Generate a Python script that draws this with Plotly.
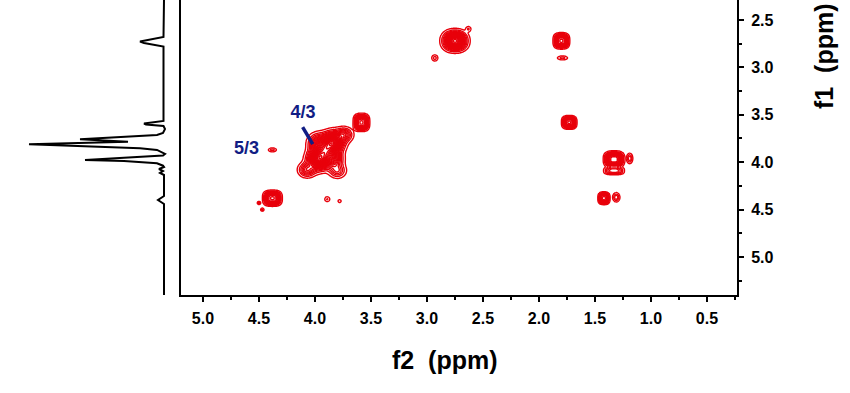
import numpy as np
import plotly.graph_objects as go

# ---------------- data ----------------
# 1D projection along f1 (ppm) and its intensity (arbitrary units)
spec_f1 = [2.289, 2.679, 2.727, 2.743, 2.780, 3.565, 3.592, 3.602, 3.618, 3.650,
           3.692, 3.713, 3.758, 3.784, 3.811, 3.837, 3.853, 3.871, 3.892, 3.913,
           3.929, 3.977, 3.987, 4.012, 4.037, 4.051, 4.072, 4.093, 4.114, 4.135,
           4.357, 4.399, 4.441, 5.401]
spec_int = [0, 0.5, 24, 20, 0.5, 0.5, 20, 18, 0.5, -1,
            1, 7, 84, 36, 135, 64, 24, 7, 2, -1,
            1, 79, 40, 7, 1, 0, 5, 1, 4, 0,
            0, 6, 0, 0]

# COSY cross / diagonal peaks: f2, f1 (ppm), relative height, widths (ppm), shape exponent
cp_f2 = [2.75, 2.93, 2.63, 1.80, 1.79, 1.73, 1.33, 1.19, 1.33, 1.42, 1.31,
         3.585, 4.38, 4.38, 4.50, 4.47, 3.89, 3.78,
         3.97, 3.84, 3.905, 3.97, 3.84, 4.07, 3.80, 3.74]
cp_f1 = [2.72, 2.90, 2.595, 2.72, 2.90, 3.58, 3.97, 3.96, 4.09, 4.38, 4.37,
         3.58, 3.87, 4.38, 4.43, 4.50, 4.39, 4.41,
         3.97, 3.79, 3.88, 3.80, 3.97, 4.08, 4.09, 3.71]
cp_amp = [1.0, 0.12, 0.10, 0.6, 0.12, 0.6, 0.7, 0.2, 0.3, 0.5, 0.2,
          0.6, 0.12, 0.6, 0.12, 0.12, 0.10, 0.08,
          1.0, 1.0, 0.7, 0.45, 0.45, 0.35, 0.25, 0.35]
cp_w2 = [0.080, 0.026, 0.023, 0.054, 0.043, 0.050, 0.068, 0.022, 0.074, 0.040, 0.026,
         0.054, 0.034, 0.064, 0.014, 0.014, 0.023, 0.016,
         0.075, 0.075, 0.080, 0.070, 0.070, 0.060, 0.060, 0.060]
cp_w1 = [0.078, 0.031, 0.027, 0.063, 0.020, 0.053, 0.064, 0.044, 0.034, 0.050, 0.039,
         0.070, 0.020, 0.062, 0.016, 0.016, 0.027, 0.018,
         0.085, 0.085, 0.090, 0.080, 0.080, 0.060, 0.060, 0.060]
cp_shape = [2.2, 2.0, 2.0, 3.0, 2.0, 3.0, 3.0, 2.0, 3.0, 3.0, 2.0,
            3.0, 2.0, 3.0, 2.0, 2.0, 2.0, 2.0,
            2.0, 2.0, 2.0, 2.0, 2.0, 2.0, 2.0, 2.0]

x_ticks = [5.0, 4.5, 4.0, 3.5, 3.0, 2.5, 2.0, 1.5, 1.0, 0.5]
x_ticklabels = ["5.0", "4.5", "4.0", "3.5", "3.0", "2.5", "2.0", "1.5", "1.0", "0.5"]
y_ticks = [2.5, 3.0, 3.5, 4.0, 4.5, 5.0]
y_ticklabels = ["2.5", "3.0", "3.5", "4.0", "4.5", "5.0"]

label_text = ["4/3", "5/3"]
label_f2 = [4.107, 4.61]
label_f1 = [3.49, 3.87]
pointer_f2 = [4.11, 4.02]
pointer_f1 = [3.63, 3.81]

# ---------------- build the 2D map from the peak list ----------------
g2 = np.arange(0.15, 5.30, 0.006)
g1 = np.arange(2.20, 5.50, 0.006)
X, Y = np.meshgrid(g2, g1)
Z = np.zeros_like(X)
for f2, f1, a, w2, w1, p in zip(cp_f2, cp_f1, cp_amp, cp_w2, cp_w1, cp_shape):
    Z += a * np.exp(-(np.abs((X - f2) / w2) ** p + np.abs((Y - f1) / w1) ** p))
Z = np.round(Z, 4)

RED = "#e8000b"
NAVY = "#111d84"
FONT = "Liberation Sans, Arial, sans-serif"

fig = go.Figure()
fig.add_trace(go.Contour(
    x=g2, y=g1, z=Z,
    contours=dict(start=0.04, end=1.8, size=0.055, coloring="lines"),
    colorscale=[[0, RED], [1, RED]],
    line=dict(width=1.4),
    showscale=False, hoverinfo="skip",
    xaxis="x", yaxis="y",
))
fig.add_trace(go.Scatter(
    x=spec_int, y=spec_f1, mode="lines",
    line=dict(color="black", width=2),
    xaxis="x2", yaxis="y", hoverinfo="skip",
))
fig.add_trace(go.Scatter(
    x=pointer_f2, y=pointer_f1, mode="lines",
    line=dict(color=NAVY, width=3.5),
    xaxis="x", yaxis="y", hoverinfo="skip",
))
fig.add_trace(go.Scatter(
    x=label_f2, y=label_f1, mode="text", text=label_text,
    textfont=dict(family=FONT, size=18, color=NAVY, weight="bold"),
    xaxis="x", yaxis="y", hoverinfo="skip",
))

W, H = 850, 393
fig.update_layout(
    width=W, height=H,
    margin=dict(l=0, r=0, t=0, b=0),
    paper_bgcolor="white", plot_bgcolor="white",
    showlegend=False,
    xaxis=dict(
        domain=[181 / W, 737 / W], range=[5.196, 0.232], autorange=False,
        tickmode="array", tickvals=x_ticks, ticktext=x_ticklabels,
        ticks="outside", ticklen=5, tickwidth=2, tickcolor="black",
        minor=dict(ticks="outside", ticklen=3, tickwidth=1.5, dtick=0.25, tick0=0, tickcolor="black"),
        showline=True, linecolor="black", linewidth=2, mirror=False,
        showgrid=False, zeroline=False, automargin=False,
        tickfont=dict(family=FONT, size=16, color="black", weight="bold"),
        ticklabelstandoff=3,
        anchor="y",
    ),
    xaxis2=dict(
        domain=[0, 170 / W], range=[164, -6], autorange=False,
        visible=False, anchor="y",
    ),
    yaxis=dict(
        domain=[1 - 295 / H, 1], range=[5.401, 2.289], autorange=False,
        side="right", anchor="x",
        tickmode="array", tickvals=y_ticks, ticktext=y_ticklabels,
        ticks="outside", ticklen=5, tickwidth=2, tickcolor="black",
        minor=dict(ticks="outside", ticklen=3, tickwidth=1.5, dtick=0.25, tick0=0, tickcolor="black"),
        showline=True, linecolor="black", linewidth=2, mirror=True,
        showgrid=False, zeroline=False, automargin=False,
        tickfont=dict(family=FONT, size=16, color="black", weight="bold"),
        ticklabelstandoff=4,
    ),
    annotations=[
        dict(text="f2  (ppm)", xref="paper", yref="paper", x=445 / W, y=1 - 360 / H,
             xanchor="center", yanchor="middle", showarrow=False,
             font=dict(family=FONT, size=25, color="black", weight="bold")),
        dict(text="f1  (ppm)", xref="paper", yref="paper", x=824 / W, y=1 - 56 / H,
             xanchor="center", yanchor="middle", showarrow=False, textangle=-90,
             font=dict(family=FONT, size=25, color="black", weight="bold")),
    ],
)

fig.write_html("out.html", config={"displayModeBar": False},
               post_script="document.body.style.margin='0px';")
